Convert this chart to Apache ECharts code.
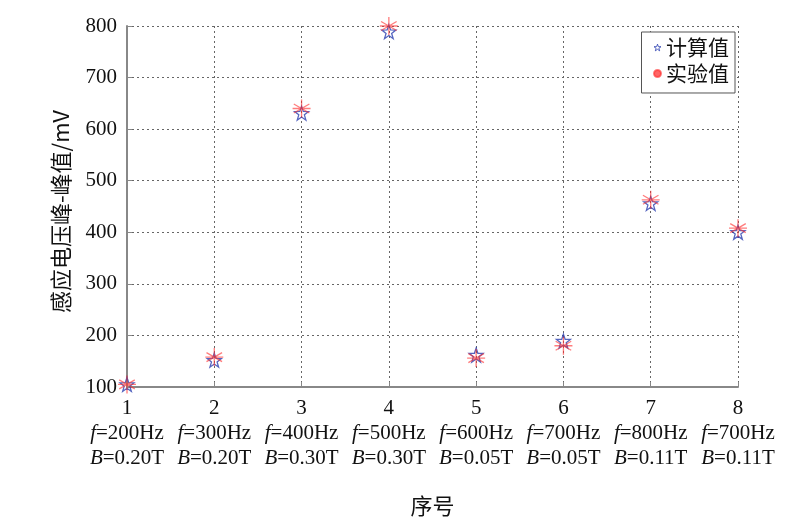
<!DOCTYPE html>
<html><head><meta charset="utf-8">
<script src="https://cdn.jsdelivr.net/npm/echarts@6/dist/echarts.min.js"></script>
<style>html,body{margin:0;padding:0;background:#fff}#c{width:800px;height:527px}</style>
</head><body><div id="c"></div>
<script>
const categories = ['1','2','3','4','5','6','7','8'];
const freqLabels = ['200','300','400','500','600','700','800','700'];
const fieldLabels = ['0.20','0.20','0.30','0.30','0.05','0.05','0.11','0.11'];
const calcValues = [105, 152, 631, 789, 162, 189, 456, 400];
const expValues = [105, 158, 640, 800, 156, 180, 463, 408];
const yTicks = [100, 200, 300, 400, 500, 600, 700, 800];

const starPath = 'path://M0,-10L2.35,-3.24L9.51,-3.09L3.8,1.24L5.88,8.09L0,4L-5.88,8.09L-3.8,1.24L-9.51,-3.09L-2.35,-3.24Z';
const astPath = 'path://M0,-10L0,10M-8.66,-5L8.66,5M-8.66,5L8.66,-5M-10,0L10,0';
const serif = '"Liberation Serif","Times New Roman",serif';
const cjk = '"Noto Sans CJK SC",sans-serif';

const chart = echarts.init(document.getElementById('c'));
chart.setOption({
  animation: false,
  backgroundColor: '#fff',
  grid: {left: 127, right: 62, top: 26, bottom: 140},
  legend: {
    orient: 'vertical', right: 65, top: 32,
    backgroundColor: '#fff',
    borderColor: '#555', borderWidth: 1,
    padding: [5, 6, 9, 10],
    itemGap: 5, itemWidth: 7, itemHeight: 7,
    textStyle: {fontFamily: cjk, fontSize: 21, color: '#111'},
    data: [
      {name: '计算值', icon: starPath, itemStyle: {color: 'none', borderColor: '#2a3fb0', borderWidth: 1}},
      {name: '实验值', icon: 'circle', itemStyle: {color: '#ff4040'}}
    ]
  },
  xAxis: {
    type: 'category', data: categories, boundaryGap: false,
    name: '序号', nameLocation: 'middle', nameGap: 108,
    nameTextStyle: {fontFamily: cjk, fontSize: 22, color: '#111'},
    axisLine: {lineStyle: {color: '#888', width: 2}},
    axisTick: {inside: true, length: 5, lineStyle: {color: '#888'}},
    splitLine: {show: true, lineStyle: {color: '#666', type: [2, 3], width: 1}},
    axisLabel: {
      margin: 8,
      interval: 0,
      formatter: function (v, i) {
        return '{n|' + v + '}\n{i|f}{t|=' + freqLabels[i] + 'Hz}\n{i|B}{t|=' + fieldLabels[i] + 'T}';
      },
      rich: {
        n: {fontFamily: serif, fontSize: 21, color: '#111', lineHeight: 26},
        t: {fontFamily: serif, fontSize: 21, color: '#111', lineHeight: 25},
        i: {fontFamily: serif, fontSize: 21, fontStyle: 'italic', color: '#111', lineHeight: 25}
      }
    }
  },
  yAxis: {
    type: 'value', min: 100, max: 800, interval: 100,
    name: '感应电压峰-峰值/mV', nameLocation: 'middle', nameGap: 55,
    nameTextStyle: {fontFamily: cjk, fontSize: 22, color: '#111', padding: [0, 0, 0, -10]},
    axisLine: {show: true, lineStyle: {color: '#888', width: 2}},
    axisTick: {show: true, inside: true, length: 5, lineStyle: {color: '#888'}},
    splitLine: {show: true, lineStyle: {color: '#666', type: [2, 3], width: 1}},
    axisLabel: {
      margin: 10, fontFamily: serif, fontSize: 21, color: '#111',
      formatter: function (v) { return yTicks.indexOf(v) >= 0 ? String(v) : ''; }
    }
  },
  series: [
    {
      name: '计算值', type: 'scatter', data: calcValues,
      symbol: starPath, symbolSize: 14, z: 3,
      itemStyle: {color: 'none', borderColor: '#2a3fb0', borderWidth: 1.3}
    },
    {
      name: '实验值', type: 'scatter', data: expValues,
      symbol: astPath, symbolSize: 18, z: 4,
      itemStyle: {color: 'none', borderColor: 'rgba(255,50,50,0.8)', borderWidth: 1.3}
    }
  ]
});
</script></body></html>
